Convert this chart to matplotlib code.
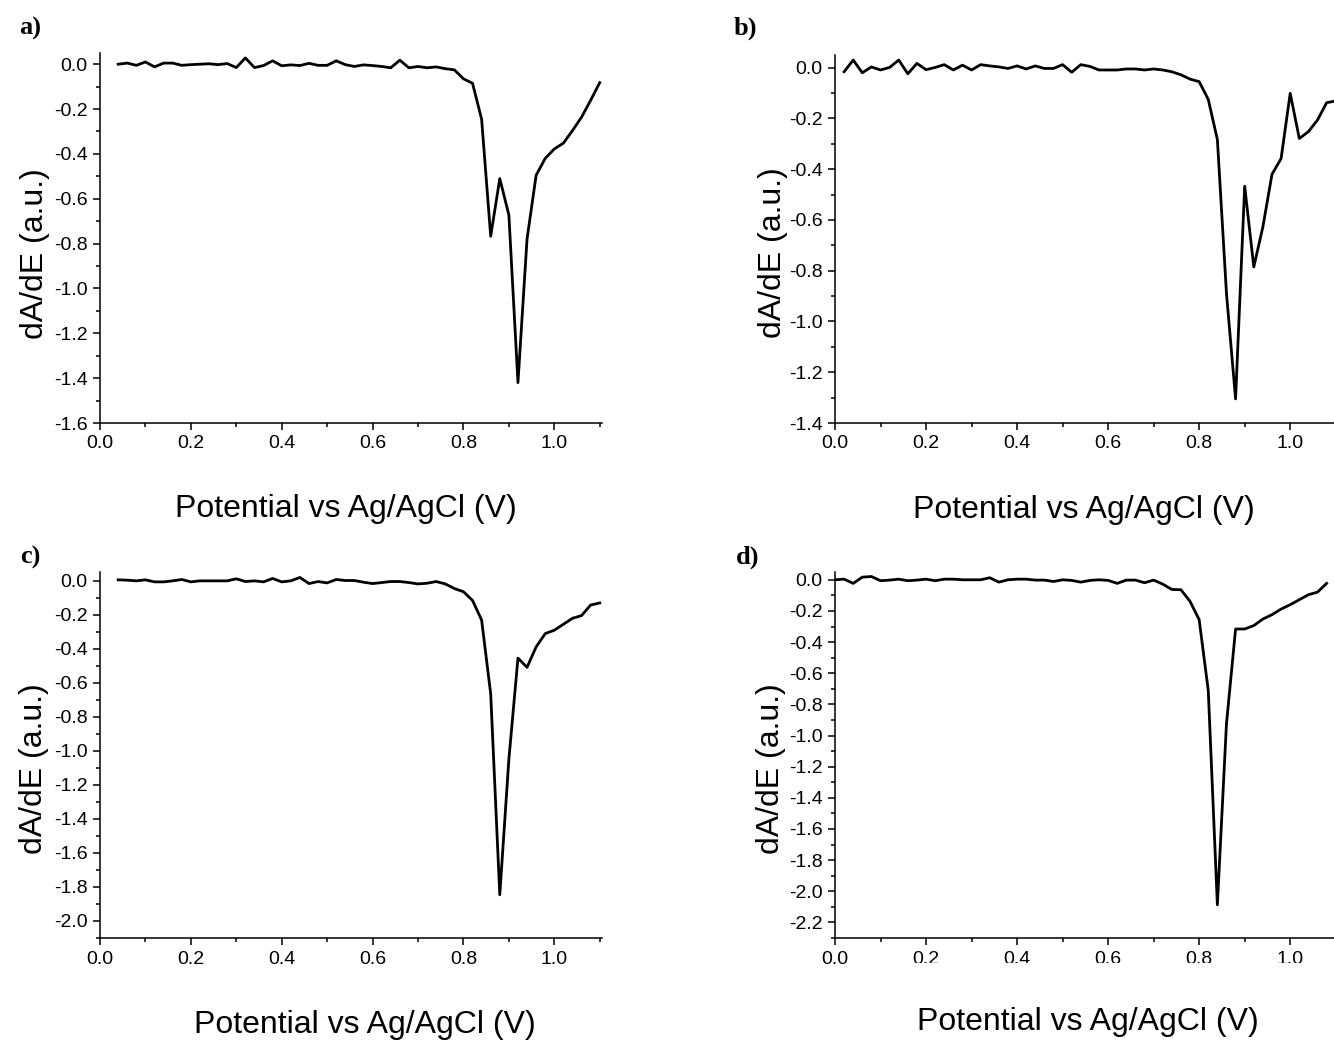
import matplotlib
matplotlib.use("Agg")
import matplotlib.pyplot as plt
from matplotlib.ticker import MultipleLocator, FuncFormatter
from matplotlib.patches import Rectangle

plt.rcParams.update({
    "font.family": "Liberation Sans",
    "axes.unicode_minus": False,
    "font.size": 14,
})

# potential (V) and dA/dE
x_a = [0.04, 0.06, 0.08, 0.10, 0.12, 0.14, 0.16, 0.18, 0.20, 0.22, 0.24, 0.26,
       0.28, 0.30, 0.32, 0.34, 0.36, 0.38, 0.40, 0.42, 0.44, 0.46, 0.48, 0.50,
       0.52, 0.54, 0.56, 0.58, 0.60, 0.62, 0.64, 0.66, 0.68, 0.70, 0.72, 0.74,
       0.76, 0.78, 0.80, 0.82, 0.84, 0.86, 0.88, 0.90, 0.92, 0.94, 0.96, 0.98,
       1.00, 1.02, 1.04, 1.06, 1.08, 1.10]
y_a = [0.0, 0.005, -0.005, 0.01, -0.012, 0.005, 0.005, -0.005, -0.002, 0.0,
       0.002, -0.002, 0.003, -0.015, 0.028, -0.015, -0.006, 0.015, -0.007,
       -0.003, -0.006, 0.004, -0.005, -0.005, 0.015, -0.002, -0.01, -0.003,
       -0.006, -0.01, -0.016, 0.018, -0.016, -0.01, -0.016, -0.012, -0.02,
       -0.025, -0.065, -0.085, -0.245, -0.767, -0.51, -0.672, -1.42, -0.78,
       -0.495, -0.42, -0.378, -0.352, -0.296, -0.236, -0.161, -0.082]

x_b = [0.02, 0.04, 0.06, 0.08, 0.10, 0.12, 0.14, 0.16, 0.18, 0.20, 0.22, 0.24,
       0.26, 0.28, 0.30, 0.32, 0.34, 0.36, 0.38, 0.40, 0.42, 0.44, 0.46, 0.48,
       0.50, 0.52, 0.54, 0.56, 0.58, 0.60, 0.62, 0.64, 0.66, 0.68, 0.70, 0.72,
       0.74, 0.76, 0.78, 0.80, 0.82, 0.84, 0.86, 0.88, 0.90, 0.92, 0.94, 0.96,
       0.98, 1.00, 1.02, 1.04, 1.06, 1.08, 1.10]
y_b = [-0.016, 0.03, -0.02, 0.003, -0.009, 0.001, 0.03, -0.024, 0.017, -0.008,
       0.001, 0.012, -0.009, 0.01, -0.009, 0.012, 0.007, 0.003, -0.003, 0.007,
       -0.005, 0.007, -0.003, -0.003, 0.012, -0.018, 0.012, 0.005, -0.009,
       -0.009, -0.009, -0.005, -0.005, -0.009, -0.005, -0.009, -0.016, -0.028,
       -0.045, -0.055, -0.125, -0.283, -0.89, -1.305, -0.467, -0.785, -0.627,
       -0.42, -0.358, -0.101, -0.279, -0.252, -0.206, -0.138, -0.131]

x_c = x_a
y_c = [0.004, 0.002, -0.002, 0.004, -0.008, -0.008, -0.002, 0.006, -0.008,
       -0.002, -0.002, -0.002, -0.002, 0.01, -0.006, -0.002, -0.008, 0.012,
       -0.008, -0.002, 0.018, -0.018, -0.006, -0.014, 0.006, 0.0, 0.0, -0.01,
       -0.018, -0.012, -0.006, -0.006, -0.012, -0.02, -0.016, -0.006, -0.02,
       -0.047, -0.066, -0.117, -0.232, -0.666, -1.846, -1.05, -0.456, -0.51,
       -0.39, -0.312, -0.292, -0.257, -0.222, -0.206, -0.144, -0.132]

x_d = [0.00, 0.02, 0.04, 0.06, 0.08, 0.10, 0.12, 0.14, 0.16, 0.18, 0.20, 0.22,
       0.24, 0.26, 0.28, 0.30, 0.32, 0.34, 0.36, 0.38, 0.40, 0.42, 0.44, 0.46,
       0.48, 0.50, 0.52, 0.54, 0.56, 0.58, 0.60, 0.62, 0.64, 0.66, 0.68, 0.70,
       0.72, 0.74, 0.76, 0.78, 0.80, 0.82, 0.84, 0.86, 0.88, 0.90, 0.92, 0.94,
       0.96, 0.98, 1.00, 1.02, 1.04, 1.06, 1.08]
y_d = [0.0, 0.004, -0.023, 0.017, 0.021, -0.006, -0.002, 0.004, -0.006, -0.002,
       0.004, -0.006, 0.004, 0.004, 0.0, 0.0, 0.0, 0.013, -0.015, 0.0, 0.004,
       0.004, -0.002, -0.002, -0.011, 0.0, -0.004, -0.015, -0.004, 0.0, -0.004,
       -0.023, -0.002, -0.002, -0.019, -0.002, -0.028, -0.062, -0.064, -0.139,
       -0.256, -0.711, -2.087, -0.924, -0.316, -0.316, -0.294, -0.252, -0.224,
       -0.188, -0.16, -0.128, -0.096, -0.079, -0.023]

XLABEL = "Potential vs Ag/AgCl (V)"
YLABEL = "dA/dE (a.u.)"

W, H = 1334, 1043


def px_axes(fig, left, top, right, bottom):
    return fig.add_axes([left / W, 1 - bottom / H, (right - left) / W,
                         (bottom - top) / H])


def style(ax, ylo, xl, yl):
    for s in ("top", "right"):
        ax.spines[s].set_visible(False)
    for s in ("left", "bottom"):
        ax.spines[s].set_linewidth(1.1)
    ax.set_xlim(0, 1.105)
    ax.set_ylim(ylo, 0.05)
    ax.xaxis.set_major_locator(MultipleLocator(0.2))
    ax.xaxis.set_minor_locator(MultipleLocator(0.1))
    ax.yaxis.set_major_locator(MultipleLocator(0.2))
    ax.yaxis.set_minor_locator(MultipleLocator(0.1))
    fmt = FuncFormatter(lambda v, p: f"{round(v, 1) + 0:.1f}")
    ax.xaxis.set_major_formatter(fmt)
    ax.yaxis.set_major_formatter(fmt)
    ax.tick_params(which="major", direction="out", length=5, width=1.1,
                   labelsize=14, pad=4)
    ax.tick_params(which="minor", direction="out", length=3, width=1.1)
    ax.set_xlabel(XLABEL, fontsize=23)
    ax.set_ylabel(YLABEL, fontsize=23)
    ax.xaxis.set_label_coords(*xl)
    ax.xaxis.label.set_verticalalignment("center")
    ax.yaxis.set_label_coords(*yl)
    ax.yaxis.label.set_verticalalignment("center")


fig = plt.figure(figsize=(W / 100, H / 100), dpi=100)

ax_a = px_axes(fig, 100, 53, 602, 423)
ax_a.plot(x_a, y_a, color="black", lw=2.0)
style(ax_a, -1.6, (0.49, -0.232), (-0.13, 0.459))

ax_b = px_axes(fig, 835, 55, 1338, 423)
ax_b.plot(x_b, y_b, color="black", lw=2.0)
style(ax_b, -1.4, (0.494, -0.236), (-0.124, 0.462))

ax_c = px_axes(fig, 100, 572, 602, 938)
ax_c.plot(x_c, y_c, color="black", lw=2.0)
style(ax_c, -2.1, (0.528, -0.238), (-0.131, 0.464))

ax_d = px_axes(fig, 835, 572, 1338, 938)
ax_d.plot(x_d, y_d, color="black", lw=2.0)
style(ax_d, -2.3, (0.502, -0.23), (-0.128, 0.464))

# the source figure has the lower part of panel d's tick labels cut away
fig.patches.append(Rectangle((852 / W, 1 - 985 / H), (W - 852) / W, 22 / H,
                             transform=fig.transFigure, fc="white", ec="none",
                             zorder=10))

for lab, xp, yp in (("a)", 30, 28), ("b)", 745, 28), ("c)", 30, 557),
                    ("d)", 748, 557)):
    fig.text(xp / W, 1 - yp / H, lab, fontsize=19, fontweight="bold",
             family="Liberation Serif", ha="center", va="center")

fig.savefig("out.png", dpi=100)
